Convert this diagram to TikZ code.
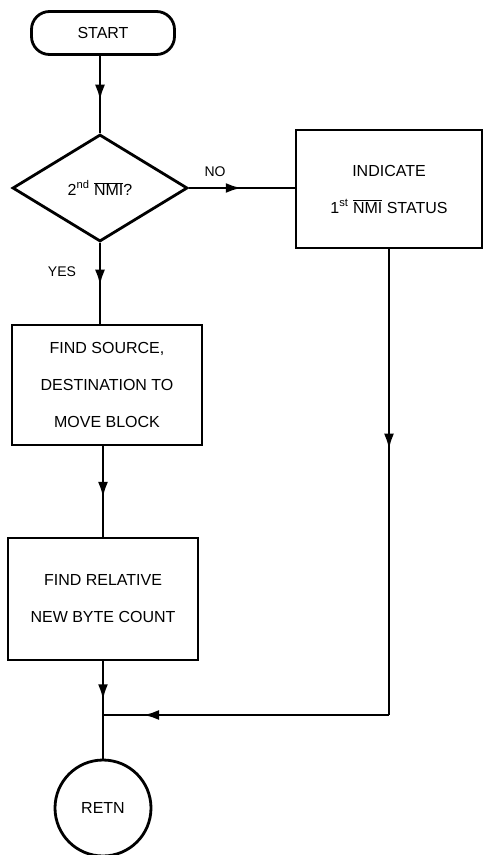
\documentclass[tikz,border=0pt]{standalone}
\usepackage{fontspec}
\setmainfont{Liberation Sans}
\usetikzlibrary{shapes.geometric,decorations.markings,arrows.meta}
\tikzset{
  ln/.style={line width=2.8pt, draw=black},
  midarrow/.style={decoration={markings, mark=at position #1 with {\arrow{Latex[length=16pt,width=10pt]}}}, postaction={decorate}},
  boxnode/.style={ln, rectangle, inner sep=0pt, align=center, font=\fontsize{16}{37}\selectfont},
  lbl/.style={font=\fontsize{14}{16}\selectfont},
}
\newcommand{\nmibar}{$\overline{\mbox{NMI}}$}
\begin{document}
\begin{tikzpicture}[x=1pt,y=-1pt]
\useasboundingbox (0,0) rectangle (483,855);
\node[ln, rounded corners=18pt, minimum width=143pt, minimum height=43pt, inner sep=0pt, font=\fontsize{16}{18}\selectfont] (start) at (103,33) {START};
\node[ln, diamond, aspect=1.64, minimum width=175pt, minimum height=107pt, inner sep=0pt, font=\fontsize{16}{18}\selectfont] (dec) at (100,188) {2\textsuperscript{nd} \nmibar?};
\node[boxnode, minimum width=186pt, minimum height=118pt] (ind) at (389,189) {INDICATE\\1\textsuperscript{st} \nmibar{} STATUS};
\node[boxnode, minimum width=190pt, minimum height=120pt] (src) at (107,385) {FIND SOURCE,\\DESTINATION TO\\MOVE BLOCK};
\node[boxnode, minimum width=190pt, minimum height=122pt] (rel) at (103,599) {FIND RELATIVE\\NEW BYTE COUNT};
\node[ln, circle, minimum size=96pt, inner sep=0pt, font=\fontsize{16}{18}\selectfont] (retn) at (103,808) {RETN};
\node[lbl] (no) at (215,172) {NO};
\node[lbl] (yes) at (62,272) {YES};
\coordinate (j) at (retn.north |- 0,715);
\draw[ln, midarrow=0.58] (start.south -| dec.north) -- (dec.north);
\draw[ln, midarrow=0.5] (dec.east) -- (ind.west |- dec.east);
\draw[ln, midarrow=0.53] (dec.south) -- (dec.south |- src.north);
\draw[ln, midarrow=0.57] (src.south -| rel.north) -- (rel.north);
\draw[ln, midarrow=0.4] (rel.south) -- (retn.north);
\draw[ln, midarrow=0.43] (ind.south) -- (ind.south |- j) coordinate (c);
\draw[ln, midarrow=0.86] (c) -- (j);
\end{tikzpicture}
\end{document}
